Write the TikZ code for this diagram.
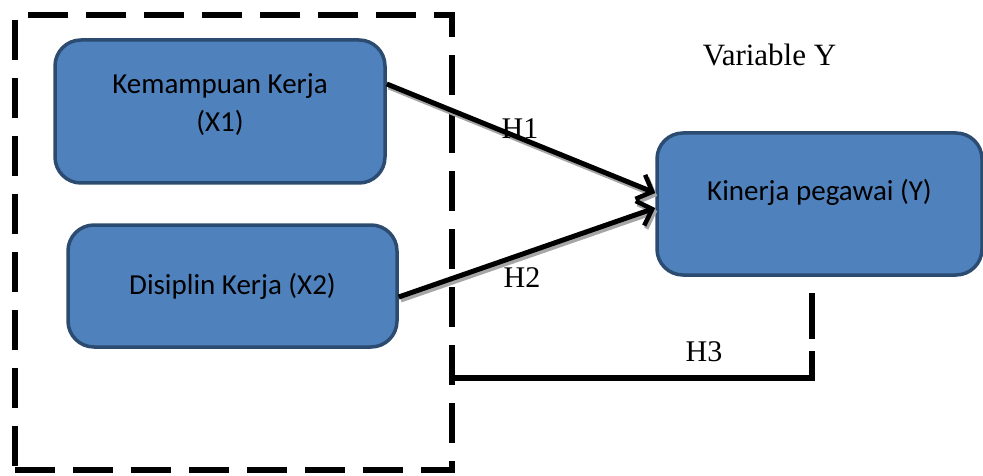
\documentclass[tikz,border=0pt]{standalone}
\usepackage{fontspec}
\setmainfont{Liberation Serif}
\newfontfamily\boxfont{Carlito}
\usetikzlibrary{arrows.meta}
\definecolor{boxfill}{HTML}{4F81BD}
\definecolor{boxline}{HTML}{2C4B70}
\definecolor{shadegray}{HTML}{A6A6A6}
\begin{document}
\begin{tikzpicture}[x=1pt,y=-1pt,
  varbox/.style={draw=boxline, fill=boxfill, line width=3.5pt,
    rounded corners=26pt, inner sep=0pt},
  boxtext/.style={font=\boxfont\fontsize{29}{38}\selectfont, align=center, inner sep=0pt},
  hlabel/.style={font=\fontsize{30}{36}\selectfont, inner sep=0pt},
  tipbarb/.tip={Straight Barb[length=13pt,width=26pt,line width=4.5pt]},
  link/.style={draw=black, line width=5pt, -tipbarb},
  linkshade/.style={draw=shadegray, line width=5pt, -tipbarb},
  groupframe/.style={draw=black, line width=5.5pt, dash pattern=on 40pt off 18pt,
    inner sep=0pt}
]
\useasboundingbox (0,0) rectangle (983,476);

% dashed group around the independent variables
\node[groupframe, minimum width=437pt, minimum height=455pt] (grp) at (233.5,242.5) {};

% variable boxes
\node[varbox, minimum width=330pt, minimum height=143pt] (x1) at (220,111.5) {};
\node[varbox, minimum width=329pt, minimum height=122pt] (x2) at (232.5,286) {};
\node[varbox, minimum width=325pt, minimum height=142pt] (y) at (819.5,204) {};

\node[boxtext] (x1t) at (220,105) {Kemampuan Kerja\\(X1)};
\node[boxtext] (x2t) at (232.5,286) {Disiplin Kerja (X2)};
\node[boxtext] (yt) at (819.5,192) {Kinerja pegawai (Y)};

\node[font=\fontsize{31}{36}\selectfont, inner sep=0pt] (vy) at (769.5,55) {Variable Y};

% connector end points
\coordinate (a1s) at (x1.east |- 0,84);
\coordinate (a1e) at (y.west |- 0,193);
\coordinate (a2s) at (x2.east |- 0,297);
\coordinate (a2e) at (y.west |- 0,208);

% arrows with drop shadow
\draw[linkshade] ([shift={(2,3)}]a1s) -- ([shift={(2,3)}]a1e);
\draw[linkshade] ([shift={(2,3)}]a2s) -- ([shift={(2,3)}]a2e);
\draw[link] (a1s) -- (a1e);
\draw[link] (a2s) -- (a2e);

\node[hlabel] (h1) at (520,129) {H1};
\node[hlabel] (h2) at (522,278) {H2};

% H3 elbow from Y back to the group
\coordinate (h3top) at (812,293);
\coordinate (h3corner) at (812,378);
\draw[line width=5.5pt, dash pattern=on 46pt off 12pt on 600pt off 1pt]
  (h3top) -- (h3corner) -- (grp.east |- h3corner);
\node[hlabel] (h3) at (704,352) {H3};
\end{tikzpicture}
\end{document}
